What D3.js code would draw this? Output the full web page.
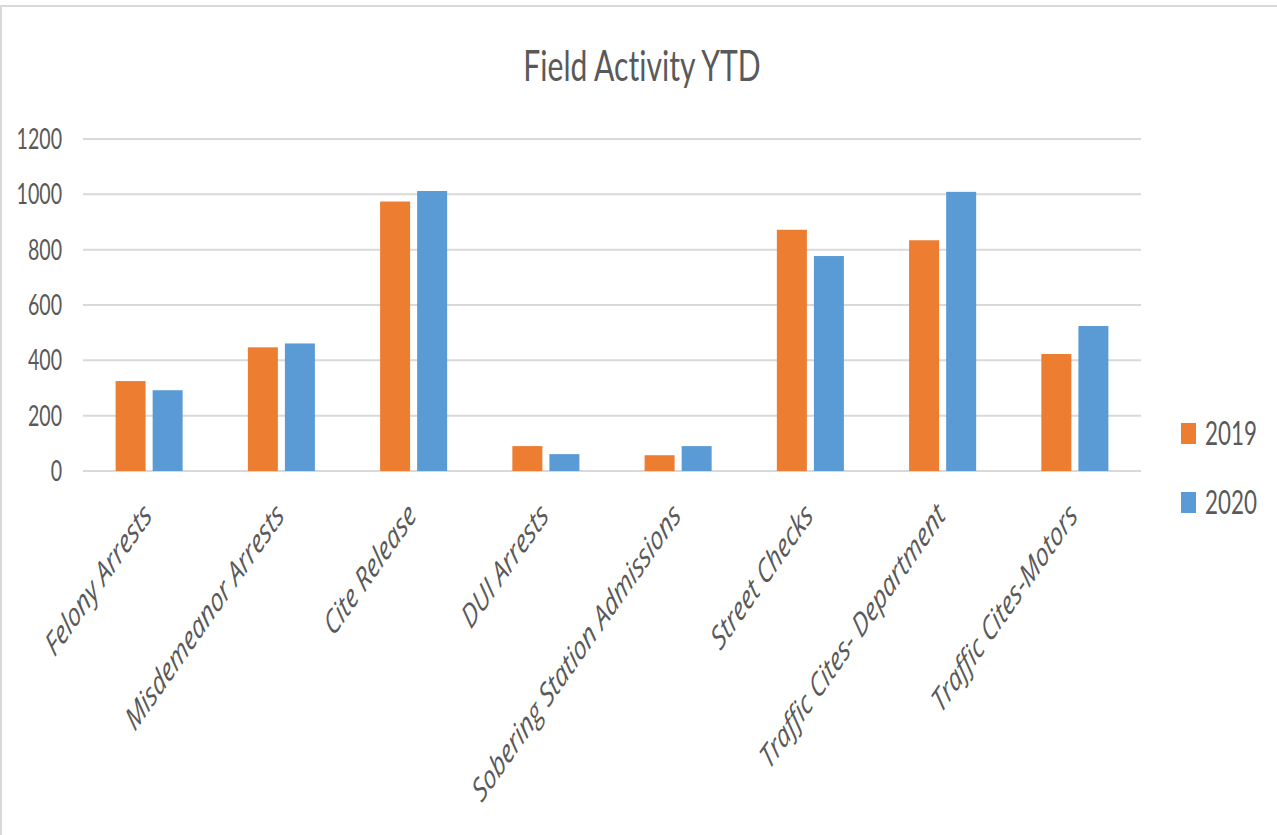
<!DOCTYPE html>
<html>
<head>
<meta charset="utf-8">
<script src="https://cdn.jsdelivr.net/npm/d3@7"></script>
<style>
  html, body { margin: 0; padding: 0; background: #fff; }
  svg { display: block; }
  text { font-family: Lato, "Open Sans", "Liberation Sans", sans-serif; fill: #595959; font-variant-ligatures: none; }
</style>
</head>
<body>
<svg id="chart" width="1277" height="835"></svg>
<script>
// ---- data ----
const categories = ["Felony Arrests", "Misdemeanor Arrests", "Cite Release", "DUI Arrests",
  "Sobering Station Admissions", "Street Checks", "Traffic Cites- Department", "Traffic Cites-Motors"];
const seriesNames = ["2019", "2020"];
const values2019 = [325, 447, 974, 90, 57, 872, 834, 423];
const values2020 = [292, 461, 1012, 61, 90, 777, 1009, 524];
const yTicks = [0, 200, 400, 600, 800, 1000, 1200];
const colors = ["#ED7D31", "#5B9BD5"];
const title = "Field Activity YTD";

const SX = 0.7; // horizontal squish of the reference text
const svg = d3.select("#chart");

// frame
svg.append("rect").attr("x", 1).attr("y", 6).attr("width", 1290).attr("height", 840)
  .attr("fill", "none").attr("stroke", "#d9d9d9").attr("stroke-width", 2);

const plot = { left: 83, right: 1141, top: 139, bottom: 471 };

const y = d3.scaleLinear().domain([0, 1200]).range([plot.bottom, plot.top]);
const x0 = d3.scaleBand().domain(categories).range([plot.left, plot.right])
  .paddingInner(0.493).paddingOuter(0.2465);
const x1 = d3.scaleBand().domain(seriesNames).range([0, x0.bandwidth()]).paddingInner(0.19);

// gridlines
svg.append("g").selectAll("line").data(yTicks).join("line")
  .attr("x1", plot.left).attr("x2", plot.right)
  .attr("y1", d => y(d)).attr("y2", d => y(d))
  .attr("stroke", "#d9d9d9").attr("stroke-width", 2);

// y labels
svg.append("g").selectAll("text").data(yTicks).join("text")
  .attr("transform", d => `translate(62,${y(d)}) scale(${SX},1)`)
  .attr("text-anchor", "end").attr("dy", "0.36em")
  .style("font-size", "28px")
  .text(d => d);

// bars
const rows = categories.map((c, i) => ({ cat: c, vals: [values2019[i], values2020[i]] }));
const groups = svg.append("g").selectAll("g").data(rows).join("g")
  .attr("transform", d => `translate(${x0(d.cat)},0)`);
groups.selectAll("rect").data(d => d.vals.map((v, j) => ({ s: seriesNames[j], v, j })))
  .join("rect")
  .attr("x", d => x1(d.s))
  .attr("width", x1.bandwidth())
  .attr("y", d => y(d.v))
  .attr("height", d => y(0) - y(d.v))
  .attr("fill", d => colors[d.j]);

// x labels
svg.append("g").selectAll("text").data(categories).join("text")
  .attr("transform", d => `translate(${x0(d) + x0.bandwidth() / 2 + 4},${plot.bottom + 46}) scale(${SX},1) rotate(-45)`)
  .attr("text-anchor", "end")
  .style("font-family", "'Open Sans', Lato, sans-serif")
  .style("font-size", "32.5px").style("font-style", "italic")
  .text(d => d);

// title
svg.append("text")
  .attr("transform", `translate(642,81) scale(${SX},1)`)
  .attr("text-anchor", "middle")
  .style("font-size", "43px")
  .text(title);

// legend
const legend = svg.append("g").selectAll("g").data(seriesNames).join("g")
  .attr("transform", (d, i) => `translate(1181,${423 + i * 69})`);
legend.append("rect").attr("width", 15).attr("height", 21).attr("fill", (d, i) => colors[i]);
legend.append("text")
  .attr("transform", `translate(24,22) scale(${SX},1)`)
  .style("font-size", "32px")
  .text(d => d);
</script>
</body>
</html>
